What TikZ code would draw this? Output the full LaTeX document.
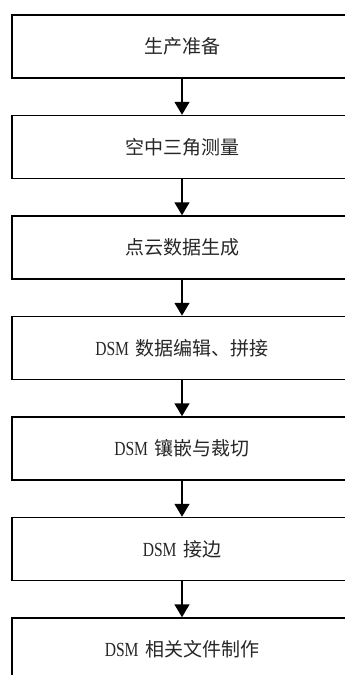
\documentclass[tikz,border=0pt]{standalone}
\usepackage{fontspec}
\setmainfont{Liberation Serif}
\newfontfamily\zh{Noto Sans CJK SC}[Scale=1.0]
\newfontfamily\dsmfont{Liberation Serif}[FakeStretch=0.78]
\usetikzlibrary{arrows.meta}
\tikzset{
  stagebox/.style={draw=black, line width=1.5pt, minimum width=340pt, minimum height=63pt,
    inner sep=0pt, font=\fontsize{19}{22}\selectfont\zh, text=black!85},
  flowarrow/.style={line width=1.5pt, -{Triangle[length=13pt,width=15pt]}}
}
\newcommand{\dsmtxt}{{\dsmfont\fontsize{20}{22}\selectfont DSM}\hspace{0.35em}}
\begin{document}
\begin{tikzpicture}[x=1pt,y=1pt]
\useasboundingbox (0,0) rectangle (345,-675);
\clip (0,0) rectangle (345,-675);
\node[stagebox] (b1) at (182,-46.5) {生产准备};
\node[stagebox] (b2) at (182,-147) {空中三角测量};
\node[stagebox] (b3) at (182,-247.5) {点云数据生成};
\node[stagebox] (b4) at (182,-348) {\dsmtxt 数据编辑、拼接};
\node[stagebox] (b5) at (182,-448.5) {\dsmtxt 镶嵌与裁切};
\node[stagebox] (b6) at (182,-549) {\dsmtxt 接边};
\node[stagebox] (b7) at (182,-649.5) {\dsmtxt 相关文件制作};
\foreach \a/\b in {b1/b2,b2/b3,b3/b4,b4/b5,b5/b6,b6/b7}
  \draw[flowarrow] (\a.south) -- (\b.north);
\end{tikzpicture}
\end{document}
